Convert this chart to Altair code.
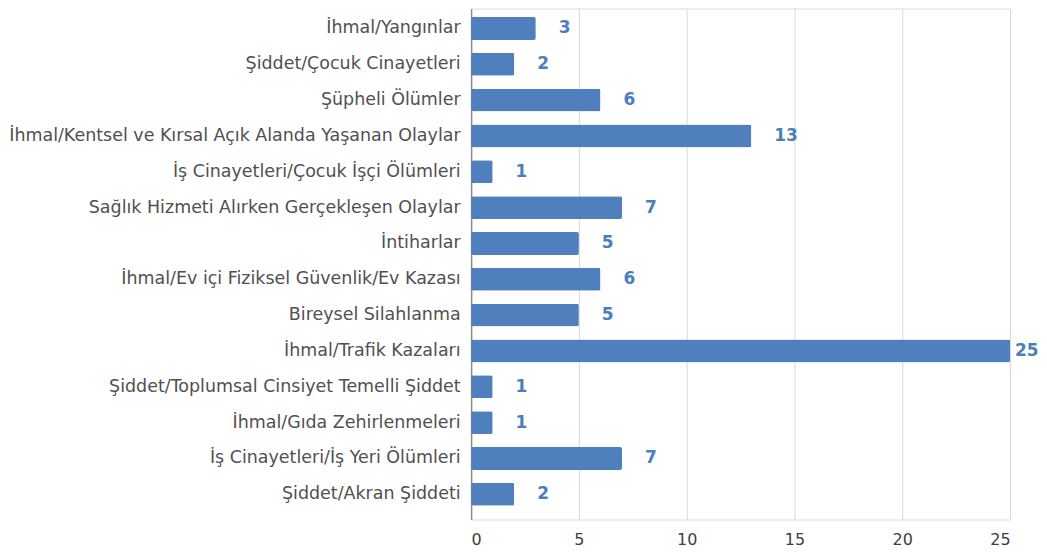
import altair as alt
import pandas as pd

categories = [
    "İhmal/Yangınlar",
    "Şiddet/Çocuk Cinayetleri",
    "Şüpheli Ölümler",
    "İhmal/Kentsel ve Kırsal Açık Alanda Yaşanan Olaylar",
    "İş Cinayetleri/Çocuk İşçi Ölümleri",
    "Sağlık Hizmeti Alırken Gerçekleşen Olaylar",
    "İntiharlar",
    "İhmal/Ev içi Fiziksel Güvenlik/Ev Kazası",
    "Bireysel Silahlanma",
    "İhmal/Trafik Kazaları",
    "Şiddet/Toplumsal Cinsiyet Temelli Şiddet",
    "İhmal/Gıda Zehirlenmeleri",
    "İş Cinayetleri/İş Yeri Ölümleri",
    "Şiddet/Akran Şiddeti",
]
values = [3, 2, 6, 13, 1, 7, 5, 6, 5, 25, 1, 1, 7, 2]
x_ticks = [0, 5, 10, 15, 20, 25]

df = pd.DataFrame({"category": categories, "value": values})

FONT = "DejaVu Sans"
BAR = "#4f7fbd"
LABEL = "#4a7ebf"
TXT = "#505050"

y_enc = alt.Y(
    "category:N",
    sort=categories,
    title=None,
    scale=alt.Scale(paddingInner=0.36, paddingOuter=0.31, align=0.38),
    axis=alt.Axis(
        labelFont=FONT, labelFontSize=17.5, labelColor=TXT,
        domainColor="#8c8c8c", domainWidth=1.5, ticks=False, labelPadding=11,
        labelLimit=0,
    ),
)
x_enc = alt.X(
    "value:Q",
    title=None,
    scale=alt.Scale(domain=[0, 25], nice=False),
    axis=alt.Axis(
        values=x_ticks, labelFont=FONT, labelFontSize=16, labelColor="#404040",
        domain=False, ticks=False, labelPadding=12, gridColor="#d9d9d9", gridWidth=1,
    ),
)

bars = alt.Chart(df).mark_bar(color=BAR, cornerRadius=2).encode(x=x_enc, y=y_enc)

text_common = dict(font=FONT, fontSize=17, fontWeight="bold", color=LABEL, align="left", baseline="middle")
labels = alt.Chart(df).transform_filter("datum.value < 25").mark_text(dx=23, **text_common).encode(
    x="value:Q", y=alt.Y("category:N", sort=categories), text="value:Q"
)
labels_end = alt.Chart(df).transform_filter("datum.value >= 25").mark_text(dx=5, **text_common).encode(
    x="value:Q", y=alt.Y("category:N", sort=categories), text="value:Q"
)

chart = alt.layer(bars, labels, labels_end).properties(
    width=540,
    height=512,
    autosize=alt.AutoSizeParams(type="none"),
    padding={"left": 464, "top": 0, "right": 29, "bottom": 28},
).configure_view(stroke=None).configure(background="white")

chart.save("out.html", embed_options={"renderer": "svg", "actions": False})
